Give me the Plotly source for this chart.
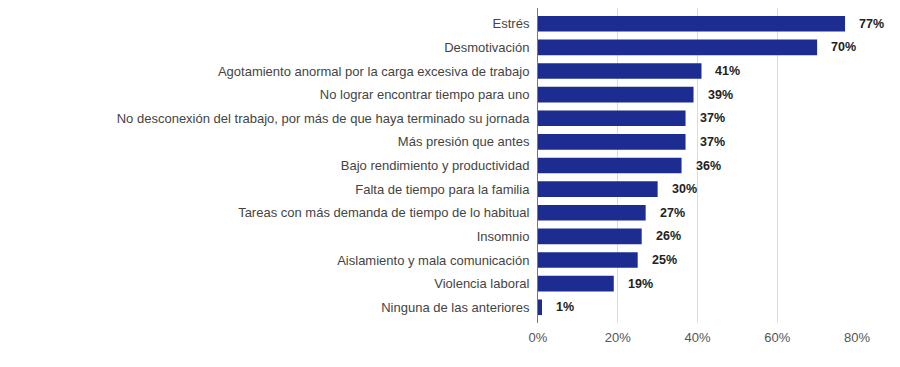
import plotly.graph_objects as go

categories = [
    "Estrés",
    "Desmotivación",
    "Agotamiento anormal por la carga excesiva de trabajo",
    "No lograr encontrar tiempo para uno",
    "No desconexión del trabajo, por más de que haya terminado su jornada",
    "Más presión que antes",
    "Bajo rendimiento y productividad",
    "Falta de tiempo para la familia",
    "Tareas con más demanda de tiempo de lo habitual",
    "Insomnio",
    "Aislamiento y mala comunicación",
    "Violencia laboral",
    "Ninguna de las anteriores",
]
values = [0.77, 0.70, 0.41, 0.39, 0.37, 0.37, 0.36, 0.30, 0.27, 0.26, 0.25, 0.19, 0.01]
value_labels = ["77%", "70%", "41%", "39%", "37%", "37%", "36%", "30%", "27%", "26%", "25%", "19%", "1%"]
tick_vals = [0, 0.2, 0.4, 0.6, 0.8]
tick_text = ["0%", "20%", "40%", "60%", "80%"]

BAR = "#1d2c90"

fig = go.Figure()
fig.add_trace(go.Bar(
    x=values, y=categories, orientation="h",
    marker=dict(color=BAR, line=dict(width=0)),
    hoverinfo="skip",
))

for c, v, t in zip(categories, values, value_labels):
    fig.add_annotation(
        x=v, y=c, text="<b>" + t + "</b>", showarrow=False,
        xanchor="left", yanchor="middle", xshift=12,
        font=dict(family="Liberation Sans, Arial", size=12.5, color="#222222"),
    )

fig.update_layout(
    width=892, height=359,
    margin=dict(l=530, r=43, t=0, b=44),
    paper_bgcolor="white", plot_bgcolor="white",
    bargap=0.34,
    showlegend=False,
    font=dict(family="Liberation Sans, Arial", size=13, color="#444444"),
)
fig.update_xaxes(
    range=[0, 0.8], tickvals=tick_vals, ticktext=tick_text,
    showgrid=True, gridcolor="#dcdcdc", gridwidth=1,
    zeroline=False, showline=False,
    tickfont=dict(size=13, color="#555555"),
    ticks="", ticklabelstandoff=5,
)
fig.update_yaxes(
    categoryorder="array", categoryarray=categories[::-1],
    range=[-0.665, 12.665],
    showline=True, linecolor="#777777", linewidth=1,
    ticks="", ticklabelstandoff=5,
    tickfont=dict(size=13, color="#444444"),
    showgrid=False,
)

fig.write_html("out.html")
